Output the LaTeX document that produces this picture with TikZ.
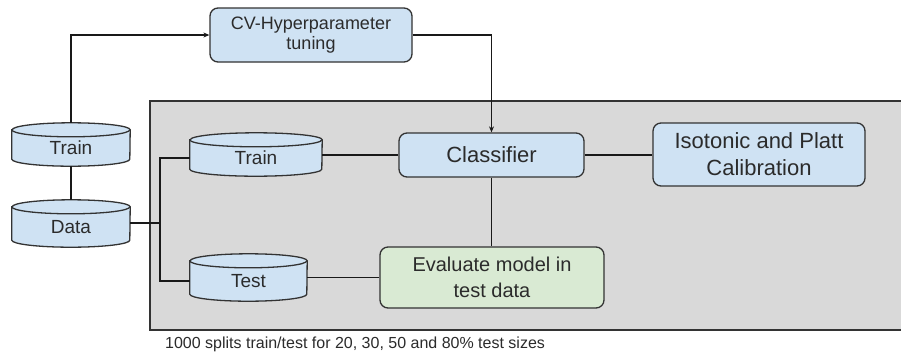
\documentclass[tikz,border=0pt]{standalone}
\usepackage{fontspec}
\setmainfont{Liberation Sans}
\usetikzlibrary{arrows.meta,calc}
\definecolor{bluefill}{HTML}{CFE2F3}
\definecolor{greenfill}{HTML}{D9EAD3}
\definecolor{grayfill}{HTML}{D9D9D9}
\definecolor{edge}{HTML}{333333}
\definecolor{txt}{HTML}{2B2B2B}
\tikzset{
  box/.style={draw=edge, line width=1.3pt, rounded corners=8pt, align=center, text=txt, inner sep=0pt},
  dbnode/.style={inner sep=0pt, text=txt, font=\fontsize{19}{22}\selectfont},
  conn/.style={line width=1.3pt, draw=black!90},
  tip/.style={-{Stealth[length=6pt,width=5pt]}},
}
\newcommand\drawdb[2]{% node name, half width
  \filldraw[fill=bluefill, draw=edge, line width=1.3pt]
    (#1.north west) -- ([yshift=7pt]#1.south west)
    arc[start angle=180, end angle=360, x radius=#2, y radius=7pt]
    -- (#1.north east)
    arc[start angle=0, end angle=180, x radius=#2, y radius=7pt] -- cycle;
  \draw[draw=edge, line width=1.3pt] (#1.north west)
    arc[start angle=180, end angle=360, x radius=#2, y radius=7pt];
}
\begin{document}
\begin{tikzpicture}[x=1pt,y=-1pt]
\useasboundingbox (0,0) rectangle (901,354);
\fill[white] (0,0) rectangle (901,354);
% gray region
\filldraw[fill=grayfill, draw=edge, line width=1.3pt] (150,101) rectangle (905,330);
% boxes
\node[box, fill=bluefill, minimum width=202pt, minimum height=54pt, font=\fontsize{18}{20}\selectfont] (cv) at (311,35) {CV-Hyperparameter\\tuning};
\node[box, fill=bluefill, minimum width=185pt, minimum height=44pt, font=\fontsize{22}{26}\selectfont] (clf) at (491.5,155) {Classifier};
\node[box, fill=bluefill, minimum width=212pt, minimum height=63pt, font=\fontsize{22}{27}\selectfont] (iso) at (759,154.5) {Isotonic and Platt\\Calibration};
\node[box, fill=greenfill, minimum width=224pt, minimum height=61pt, font=\fontsize{20}{26}\selectfont] (eval) at (492,277.5) {Evaluate model in\\test data};
% cylinders (node = body below the top ellipse centre)
\node[dbnode, minimum width=118pt, minimum height=36pt] (trainA) at (71,148) {};
\node[dbnode, minimum width=118pt, minimum height=40pt] (data) at (71,227) {};
\node[dbnode, minimum width=132pt, minimum height=36pt] (trainB) at (256,158) {};
\node[dbnode, minimum width=117pt, minimum height=40pt] (test) at (248.5,281) {};
\drawdb{trainA}{59pt}
\drawdb{data}{59pt}
\drawdb{trainB}{66pt}
\drawdb{test}{58.5pt}
\node[dbnode] at (trainA) {Train};
\node[dbnode] at (data) {Data};
\node[dbnode] at (trainB) {Train};
\node[dbnode] at (test) {Test};
% connectors
\coordinate (J) at (160,223);
\draw[conn, tip] ([yshift=7pt]trainA.north) |- (cv.west);
\draw[conn, tip] (cv.east) -| (clf.north);
\draw[conn] (trainA.south) -- ([yshift=7pt]data.north);
\draw[conn] (data.east |- J) -- (J);
\draw[conn] (trainB.west) -| (J) |- (test.west);
\draw[conn] (clf.west -| trainB.east) -- (clf.west);
\draw[conn] (clf.east) -- (iso.west |- clf.east);
\draw[conn] (clf.south) -- (eval.north -| clf.south);
\draw[conn] (eval.west -| test.east) -- (eval.west);
% caption
\node[anchor=west, inner sep=0pt, text=txt, font=\fontsize{16}{18}\selectfont] (cap) at (165,344) {1000 splits train/test for 20, 30, 50 and 80\% test sizes};
\end{tikzpicture}
\end{document}
